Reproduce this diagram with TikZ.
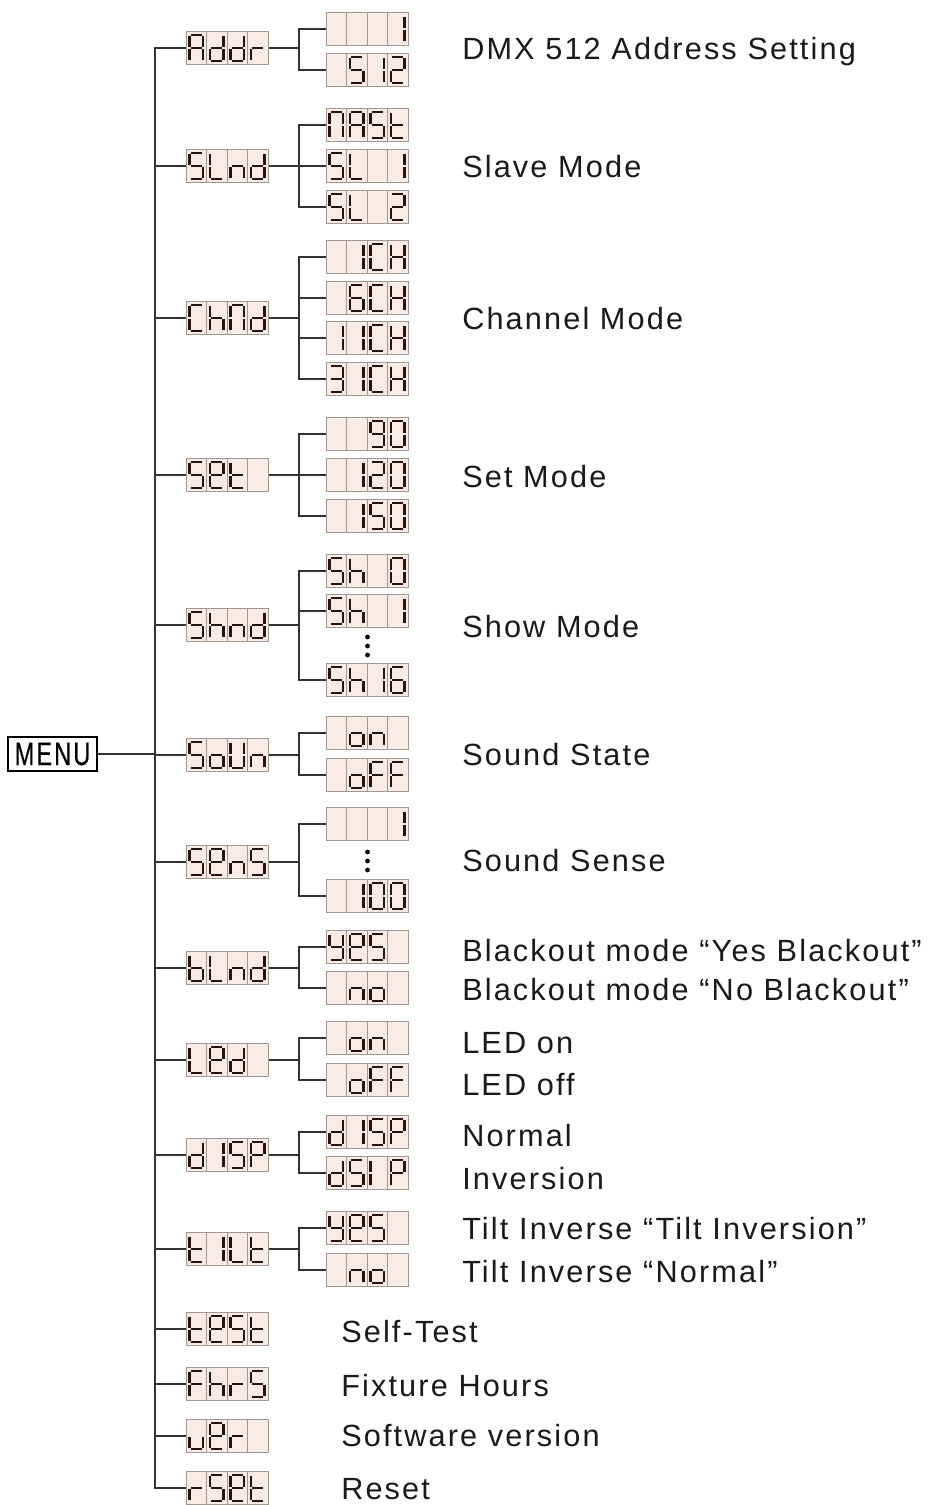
\documentclass[tikz,border=0pt]{standalone}
\usepackage{fontspec}
\usepackage{graphicx}
\setmainfont{Liberation Sans}
\newfontfamily\lblfont[LetterSpace=7]{Liberation Sans}
\newfontfamily\menufont[LetterSpace=9,FakeBold=0.5]{Liberation Sans}
\definecolor{linec}{HTML}{333333}
\definecolor{cellf}{HTML}{F9EBE5}
\definecolor{cellb}{HTML}{A09890}
\definecolor{segc}{HTML}{2B1010}
\definecolor{txtc}{HTML}{1A1A1A}
% segment paths
\def\sga{(\lcdXl+1.1,\lcdTy)--(\lcdXr-1.1,\lcdTy)}
\def\sgb{(\lcdXr,\lcdTy+1.1)--(\lcdXr,\lcdMy-1.1)}
\def\sgc{(\lcdXr,\lcdMy+1.1)--(\lcdXr,\lcdBy-1.1)}
\def\sgd{(\lcdXl+1.1,\lcdBy)--(\lcdXr-1.1,\lcdBy)}
\def\sge{(\lcdXl,\lcdMy+1.1)--(\lcdXl,\lcdBy-1.1)}
\def\sgf{(\lcdXl,\lcdTy+1.1)--(\lcdXl,\lcdMy-1.1)}
\def\sgg{(\lcdXl+1.1,\lcdMy)--(\lcdXr-1.1,\lcdMy)}
\def\sgz{(\lcdXl,\lcdTy)}
% glyphs
\def\LgX{z}
\def\LgZero{a,b,c,d,e,f}
\def\LgOne{b,c}
\def\LgTwo{a,b,d,e,g}
\def\LgThree{a,b,c,d,g}
\def\LgFive{a,c,d,f,g}
\def\LgSix{a,c,d,e,f,g}
\def\LgNine{a,b,c,d,f,g}
\def\LgA{a,b,c,e,f,g}
\def\LgC{a,d,e,f}
\def\LgE{a,b,d,e,f,g}
\def\LgF{a,e,f,g}
\def\LgH{b,c,e,f,g}
\def\LgL{d,e,f}
\def\LgM{a,b,c,e,f}
\def\LgP{a,b,e,f,g}
\def\LgS{a,c,d,f,g}
\def\LgU{b,c,d,e,f}
\def\LgI{e,f}
\def\Lgb{c,d,e,f,g}
\def\Lgd{b,c,d,e,g}
\def\Lgh{c,e,f,g}
\def\Lgn{c,e,g}
\def\Lgo{c,d,e,g}
\def\Lgr{e,g}
\def\Lgt{d,e,f,g}
\def\Lgu{c,d,e}
\def\Lgy{b,c,d,f,g}
\newcommand\lcdcell[3]{%
  \pgfmathsetmacro\lcdXl{#1+3.6}%
  \pgfmathsetmacro\lcdXr{#1+20.5-3.6}%
  \pgfmathsetmacro\lcdTy{#2+3.8}%
  \pgfmathsetmacro\lcdBy{#2+33-3.6}%
  \pgfmathsetmacro\lcdMy{#2+16.6}%
  \foreach \s in #3 {%
    \expandafter\let\expandafter\curseg\csname sg\s\endcsname
    \draw[seg] \curseg;}%
}
\newcommand\lcd[7]{%
  \node[lcdbox] (#1) at (#2,#3) {};
  \pgfmathsetmacro\lcdTop{#3-16.5}%
  \foreach \k in {1,2,3} {\draw[draw=cellb, line width=0.6pt] (#2+20.5*\k,\lcdTop) -- ++(0,33);}
  \lcdcell{#2}{\lcdTop}{#4}%
  \lcdcell{#2+20.5}{\lcdTop}{#5}%
  \lcdcell{#2+41}{\lcdTop}{#6}%
  \lcdcell{#2+61.5}{\lcdTop}{#7}%
}
\newcommand\brk[4]{%
  \path (#1.east) ++(30,0) coordinate (#1b);
  \draw[conn] (#1.east) -- (#1b);
  \draw[conn] (#2.west) -- (#2.west -| #1b) -- (#3.west -| #1b) -- (#3.west);
  \foreach \c in {#4} {\draw[conn] (\c.west) -- (\c.west -| #1b);}
}
\tikzset{
  conn/.style={draw=linec, line width=1.3pt, line join=miter},
  lcdbox/.style={draw=cellb, fill=cellf, line width=0.7pt, minimum width=61.5pt,
    minimum height=24.75pt, inner sep=0pt, anchor=west},
  seg/.style={draw=segc, line width=1.7pt, line cap=butt},
  lbl/.style={anchor=base west, inner sep=0pt, text=txtc,
    font=\lblfont\fontsize{23}{27}\selectfont},
  dotm/.style={fill=black},
}
\begin{document}
\begin{tikzpicture}[x=0.75pt,y=-0.75pt]
\useasboundingbox[fill=white] (0,0) rectangle (932,1505);

\node[draw=black, line width=1.8pt, minimum width=66.75pt, minimum height=25.5pt,
  inner sep=0pt, font=\menufont\fontsize{24.5}{26}\selectfont] (menu) at (52.5,754)
  {\scalebox{0.72}[1]{MENU}};

% Addr
\lcd{Addr}{186}{48}{\LgA}{\Lgd}{\Lgd}{\Lgr}
\lcd{a1}{326}{29}{\LgX}{\LgX}{\LgX}{\LgOne}
\lcd{a2}{326}{70}{\LgX}{\LgFive}{\LgOne}{\LgTwo}
\brk{Addr}{a1}{a2}{a1}
% SLnd
\lcd{SLnd}{186}{166}{\LgS}{\LgL}{\Lgn}{\Lgd}
\lcd{s1}{326}{125}{\LgM}{\LgA}{\LgS}{\Lgt}
\lcd{s2}{326}{166}{\LgS}{\LgL}{\LgX}{\LgOne}
\lcd{s3}{326}{207}{\LgS}{\LgL}{\LgX}{\LgTwo}
\brk{SLnd}{s1}{s3}{s2}
% ChMd
\lcd{ChMd}{186}{318}{\LgC}{\Lgh}{\LgM}{\Lgd}
\lcd{c1}{326}{257}{\LgX}{\LgOne}{\LgC}{\LgH}
\lcd{c2}{326}{298}{\LgX}{\LgSix}{\LgC}{\LgH}
\lcd{c3}{326}{338}{\LgOne}{\LgOne}{\LgC}{\LgH}
\lcd{c4}{326}{379}{\LgThree}{\LgOne}{\LgC}{\LgH}
\brk{ChMd}{c1}{c4}{c2,c3}
% SEt
\lcd{SEt}{186}{475}{\LgS}{\LgE}{\Lgt}{\LgX}
\lcd{e1}{326}{434}{\LgX}{\LgX}{\LgNine}{\LgZero}
\lcd{e2}{326}{475}{\LgX}{\LgOne}{\LgTwo}{\LgZero}
\lcd{e3}{326}{516}{\LgX}{\LgOne}{\LgFive}{\LgZero}
\brk{SEt}{e1}{e3}{e2}
% Shnd
\lcd{Shnd}{186}{625}{\LgS}{\Lgh}{\Lgn}{\Lgd}
\lcd{h1}{326}{571}{\LgS}{\Lgh}{\LgX}{\LgZero}
\lcd{h2}{326}{611}{\LgS}{\Lgh}{\LgX}{\LgOne}
\lcd{h3}{326}{680}{\LgS}{\Lgh}{\LgOne}{\LgSix}
\brk{Shnd}{h1}{h3}{h2}
\foreach \yy in {637,646,655} \fill[dotm] (367.5,\yy) circle (2.4);
% SoUn
\lcd{SoUn}{186}{755}{\LgS}{\Lgo}{\LgU}{\Lgn}
\lcd{o1}{326}{733}{\LgX}{\Lgo}{\Lgn}{\LgX}
\lcd{o2}{326}{775}{\LgX}{\Lgo}{\LgF}{\LgF}
\brk{SoUn}{o1}{o2}{o1}
% SEnS
\lcd{SEnS}{186}{862}{\LgS}{\LgE}{\Lgn}{\LgS}
\lcd{n1}{326}{824}{\LgX}{\LgX}{\LgX}{\LgOne}
\lcd{n2}{326}{896}{\LgX}{\LgOne}{\LgZero}{\LgZero}
\brk{SEnS}{n1}{n2}{n1}
\foreach \yy in {852,861,870} \fill[dotm] (367.5,\yy) circle (2.4);
% bLnd
\lcd{bLnd}{186}{968}{\Lgb}{\LgL}{\Lgn}{\Lgd}
\lcd{b1}{326}{947}{\Lgy}{\LgE}{\LgS}{\LgX}
\lcd{b2}{326}{988}{\LgX}{\Lgn}{\Lgo}{\LgX}
\brk{bLnd}{b1}{b2}{b1}
% LEd
\lcd{LEd}{186}{1060}{\LgL}{\LgE}{\Lgd}{\LgX}
\lcd{l1}{326}{1038}{\LgX}{\Lgo}{\Lgn}{\LgX}
\lcd{l2}{326}{1080}{\LgX}{\Lgo}{\LgF}{\LgF}
\brk{LEd}{l1}{l2}{l1}
% dISP
\lcd{dISP}{186}{1155}{\Lgd}{\LgOne}{\LgS}{\LgP}
\lcd{d1}{326}{1132}{\Lgd}{\LgOne}{\LgS}{\LgP}
\lcd{d2}{326}{1173}{\Lgd}{\LgS}{\LgI}{\LgP}
\brk{dISP}{d1}{d2}{d1}
% tILt
\lcd{tILt}{186}{1249}{\Lgt}{\LgOne}{\LgL}{\Lgt}
\lcd{t1}{326}{1228}{\Lgy}{\LgE}{\LgS}{\LgX}
\lcd{t2}{326}{1270}{\LgX}{\Lgn}{\Lgo}{\LgX}
\brk{tILt}{t1}{t2}{t1}
% singles
\lcd{tESt}{186}{1329}{\Lgt}{\LgE}{\LgS}{\Lgt}
\lcd{FhrS}{186}{1384}{\LgF}{\Lgh}{\Lgr}{\LgS}
\lcd{uEr}{186}{1436}{\Lgu}{\LgE}{\Lgr}{\LgX}
\lcd{rSEt}{186}{1488}{\Lgr}{\LgS}{\LgE}{\Lgt}

% trunk
\coordinate (ttop) at (155,48);
\coordinate (tbot) at (155,1488);
\draw[conn] (Addr.west) -- (ttop) -- (tbot) -- (rSEt.west);
\foreach \n in {SLnd,ChMd,SEt,Shnd,SoUn,SEnS,bLnd,LEd,dISP,tILt,tESt,FhrS,uEr}
  {\draw[conn] (\n.west) -- (\n.west -| ttop);}
\draw[conn] (menu.east) -- (menu.east -| ttop);

% labels
\node[lbl] (L1) at (462,60) {DMX 512 Address Setting};
\node[lbl] (L2) at (462,178) {Slave Mode};
\node[lbl] (L3) at (462,329) {Channel Mode};
\node[lbl] (L4) at (462,487) {Set Mode};
\node[lbl] (L5) at (462,637) {Show Mode};
\node[lbl] (L6) at (462,765) {Sound State};
\node[lbl] (L7) at (462,871) {Sound Sense};
\node[lbl] (L8) at (462,961) {Blackout mode “Yes Blackout”};
\node[lbl] (L9) at (462,1000) {Blackout mode “No Blackout”};
\node[lbl] (L10) at (462,1053) {LED on};
\node[lbl] (L11) at (462,1095) {LED off};
\node[lbl] (L12) at (462,1146) {Normal};
\node[lbl] (L13) at (462,1189) {Inversion};
\node[lbl] (L14) at (462,1239) {Tilt Inverse “Tilt Inversion”};
\node[lbl] (L15) at (462,1282) {Tilt Inverse “Normal”};
\node[lbl] (L16) at (341,1342) {Self-Test};
\node[lbl] (L17) at (341,1396) {Fixture Hours};
\node[lbl] (L18) at (341,1446) {Software version};
\node[lbl] (L19) at (341,1499) {Reset};
\end{tikzpicture}
\end{document}
